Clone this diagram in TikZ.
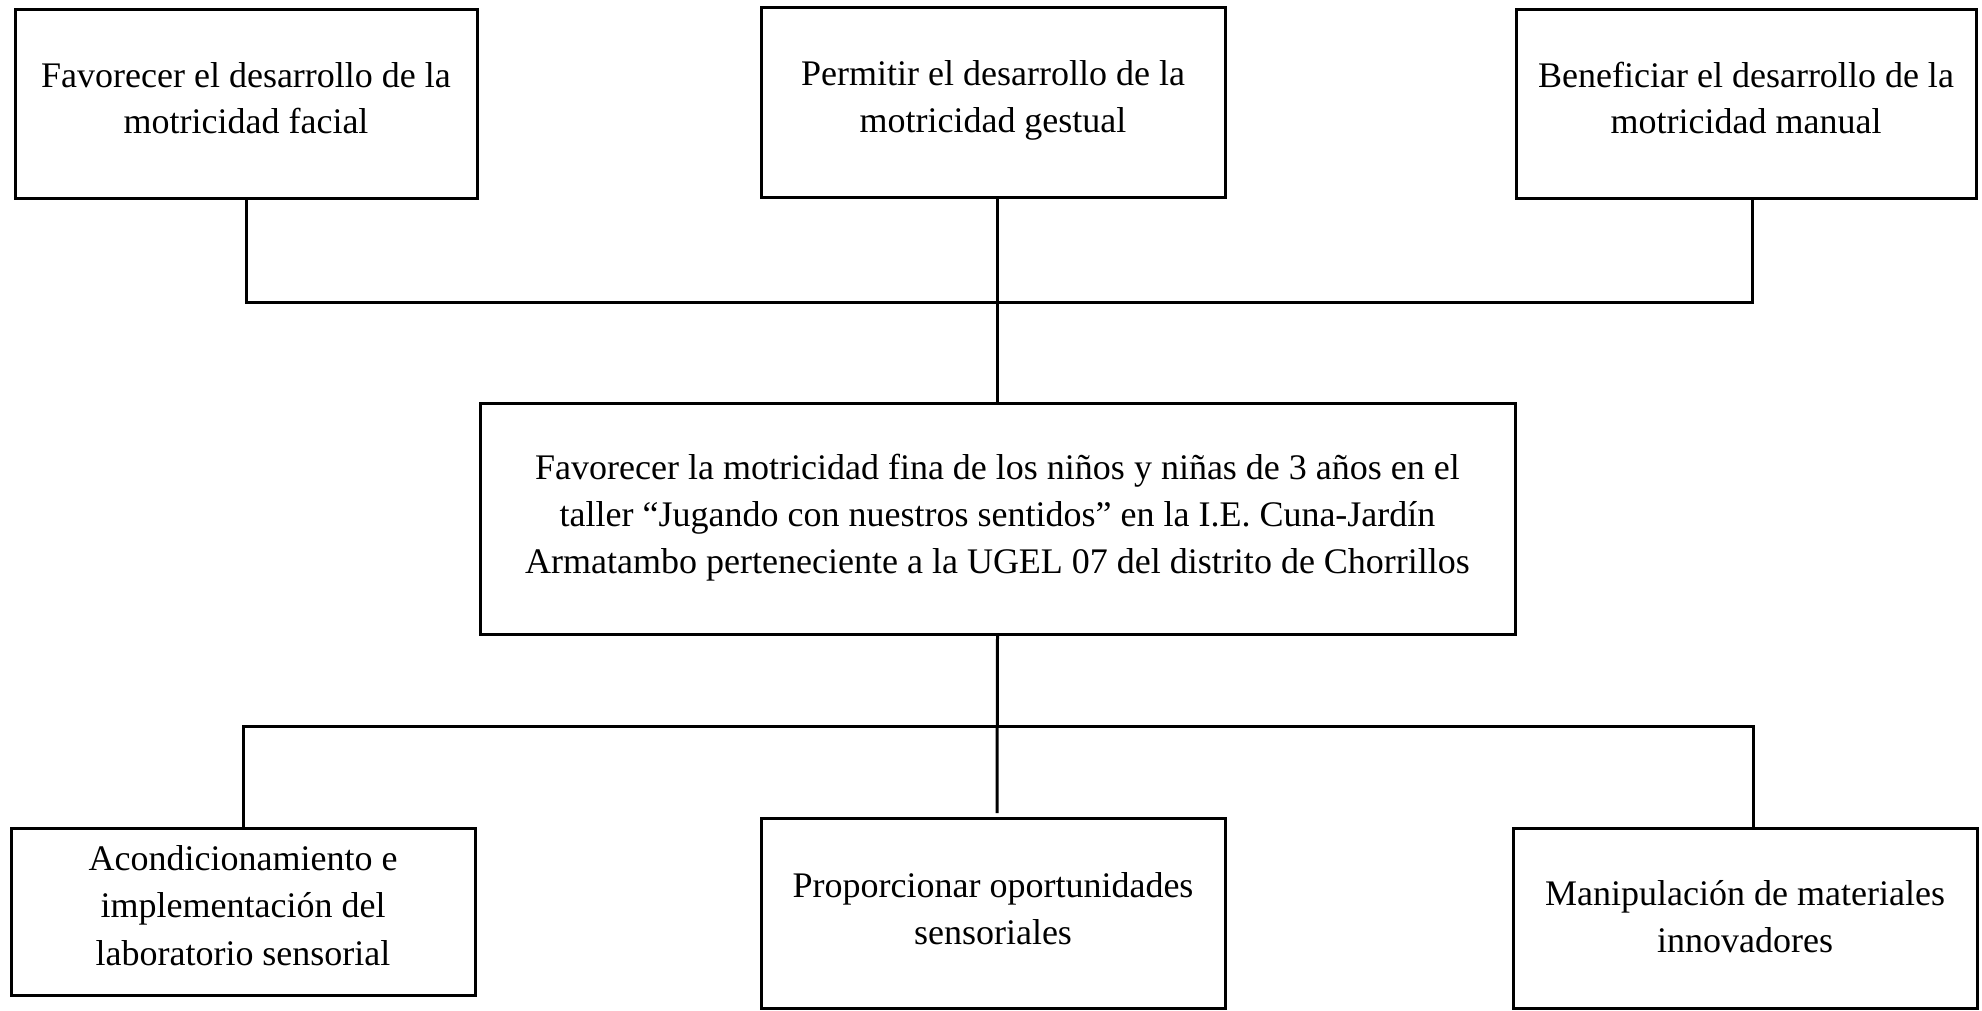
\documentclass[tikz,border=0pt]{standalone}
\usepackage{fontspec}
\setmainfont{Liberation Serif}
\usetikzlibrary{calc}
\begin{document}
\begin{tikzpicture}[x=0.5pt,y=-0.5pt,
  box/.style={draw, line width=1.5pt, rectangle, inner sep=0pt},
  txt/.style={align=center, inner sep=0pt, font=\fontsize{18}{23.3}\selectfont},
  txtb/.style={align=center, inner sep=0pt, font=\fontsize{18}{23.6}\selectfont},
  ln/.style={line width=1.5pt}]
\useasboundingbox (0,0) rectangle (1982,1011);
% top boxes
\node[box, minimum width=231pt, minimum height=94pt] (t1) at (246,104) {};
\node[box, minimum width=232pt, minimum height=94.5pt] (t2) at (993,102.5) {};
\node[box, minimum width=230pt, minimum height=94pt] (t3) at (1746,104) {};
\node[txt, yshift=3pt] (t1t) at (t1.center) {Favorecer el desarrollo de la\\motricidad facial};
\node[txt, yshift=1.2pt] (t2t) at (t2.center) {Permitir el desarrollo de la\\motricidad gestual};
\node[txt, yshift=3pt] (t3t) at (t3.center) {Beneficiar el desarrollo de la\\motricidad manual};
% centre box
\node[box, minimum width=517.5pt, minimum height=115.5pt] (c) at (997.5,518.5) {};
\node[txtb, yshift=0.5pt] (ct) at (c.center) {Favorecer la motricidad fina de los niños y niñas de 3 años en el\\taller “Jugando con nuestros sentidos” en la I.E. Cuna-Jardín\\Armatambo perteneciente a la UGEL 07 del distrito de Chorrillos};
% bottom boxes
\node[box, minimum width=232pt, minimum height=83.5pt] (b1) at (243,911.5) {};
\node[box, minimum width=232pt, minimum height=95pt] (b2) at (993,913) {};
\node[box, minimum width=232pt, minimum height=90pt] (b3) at (1745,918) {};
\node[txtb, yshift=3pt] (b1t) at (b1.center) {Acondicionamiento e\\implementación del\\laboratorio sensorial};
\node[txtb, yshift=2pt] (b2t) at (b2.center) {Proporcionar oportunidades\\sensoriales};
\node[txtb, yshift=0.5pt] (b3t) at (b3.center) {Manipulación de materiales\\innovadores};
% junctions
\coordinate (jt) at (997,302);
\coordinate (jb) at (997,726);
\coordinate (endm) at (997,813);
% connectors
\draw[ln] (t1.south) -- (t1.south |- jt) -- ([xshift=3pt]t3.south |- jt) -- ([xshift=3pt]t3.south);
\draw[ln] (t2.south -| c.north) -- (c.north);
\draw[ln] (b1.north) -- (b1.north |- jb) -- ([xshift=4pt]b3.north |- jb) -- ([xshift=4pt]b3.north);
\draw[ln] (c.south) -- (endm);
\end{tikzpicture}
\end{document}
